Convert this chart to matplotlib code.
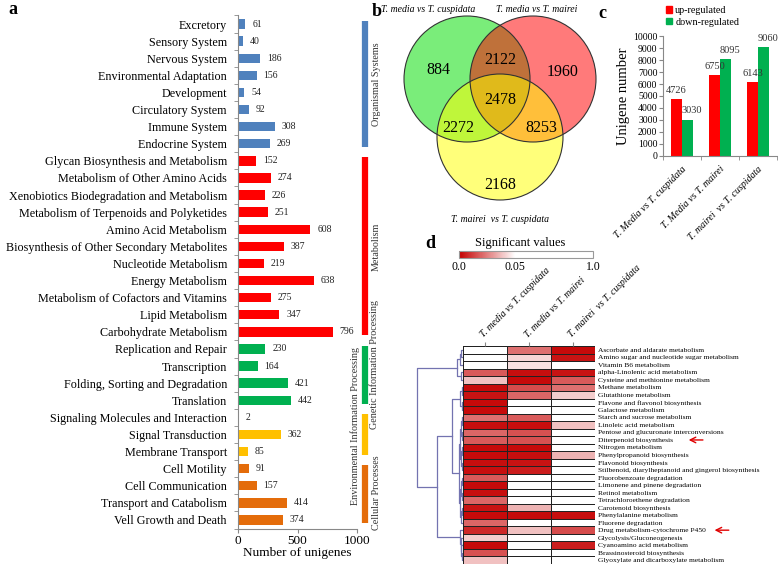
import matplotlib.pyplot as plt
import numpy as np
from matplotlib.patches import Circle, Patch
from matplotlib.colors import LinearSegmentedColormap, FuncNorm

plt.rcParams['font.family'] = ['Liberation Serif', 'DejaVu Serif']

W, H = 778, 565

# ---- panel a: KEGG pathway classes
pathways = [
    'Excretory', 'Sensory System', 'Nervous System', 'Environmental Adaptation',
    'Development', 'Circulatory System', 'Immune System', 'Endocrine System',
    'Glycan Biosynthesis and Metabolism', 'Metabolism of Other Amino Acids',
    'Xenobiotics Biodegradation and Metabolism', 'Metabolism of Terpenoids and Polyketides',
    'Amino Acid Metabolism', 'Biosynthesis of Other Secondary Metabolites',
    'Nucleotide Metabolism', 'Energy Metabolism', 'Metabolism of Cofactors and Vitamins',
    'Lipid Metabolism', 'Carbohydrate Metabolism',
    'Replication and Repair', 'Transcription', 'Folding, Sorting and Degradation', 'Translation',
    'Signaling Molecules and Interaction', 'Signal Transduction', 'Membrane Transport',
    'Cell Motility', 'Cell Communication', 'Transport and Catabolism', 'Vell Growth and Death',
]
unigenes = [61, 40, 186, 156, 54, 92, 308, 269,
            152, 274, 226, 251, 608, 387, 219, 638, 275, 347, 796,
            230, 164, 421, 442,
            2, 362, 85,
            91, 157, 414, 374]
group_names = ['Organismal Systems', 'Metabolism', 'Genetic Information Processing',
               'Environmental Information Processing', 'Cellular Processes']
group_sizes = [8, 11, 4, 3, 4]
group_colors = ['#4f81bd', '#ff0000', '#00b050', '#ffc000', '#e46c0a']

# ---- panel b: Venn counts
set_names = ['T. media vs T. cuspidata', 'T. media vs T. mairei', 'T. mairei  vs T. cuspidata']
venn_counts = {'100': 884, '010': 1960, '001': 2168, '110': 2122,
               '101': 2272, '011': 8253, '111': 2478}

# ---- panel c: up/down regulated
comparisons = ['T. Media vs T. cuspidata', 'T. Media vs T. mairei', 'T. mairei  vs T. cuspidata']
up_regulated = [4726, 6750, 6143]
down_regulated = [3030, 8095, 9060]

# ---- panel d: enrichment p-values
heat_cols = ['T. media vs T. cuspidata', 'T. media vs T. mairei', 'T. mairei  vs T. cuspidata']
heat_rows = [
    'Ascorbate and aldarate metabolism', 'Amino sugar and nucleotide sugar metabolism',
    'Vitamin B6 metabolism', 'alpha-Linolenic acid metabolism',
    'Cysteine and methionine metabolism', 'Methane metabolism', 'Glutathione metabolism',
    'Flavone and flavonol biosynthesis', 'Galactose metabolism', 'Starch and sucrose metabolism',
    'Linoleic acid metabolism', 'Pentose and glucuronate interconversions',
    'Diterpenoid biosynthesis', 'Nitrogen metabolism', 'Phenylpropanoid biosynthesis',
    'Flavonoid biosynthesis', 'Stilbenoid, diarylheptanoid and gingerol biosynthesis',
    'Fluorobenzoate degradation', 'Limonene and pinene degradation', 'Retinol metabolism',
    'Tetrachloroethene degradation', 'Carotenoid biosynthesis', 'Phenylalanine metabolism',
    'Fluorene degradation', 'Drug metabolism-cytochrome P450', 'Glycolysis/Gluconeogenesis',
    'Cyanoamino acid metabolism', 'Brassinosteroid biosynthesis',
    'Glyoxylate and dicarboxylate metabolism',
]
p_values = np.array([
    [0.5, 0.022, 0.002], [0.5, 0.042, 0.004], [0.5, 0.044, 0.5], [0.018, 0.003, 0.004],
    [0.038, 0.002, 0.018], [0.002, 0.015, 0.022], [0.004, 0.02, 0.04], [0.002, 0.5, 0.5],
    [0.002, 0.5, 0.5], [0.022, 0.018, 0.5], [0.003, 0.003, 0.038], [0.02, 0.016, 0.5],
    [0.018, 0.016, 0.5], [0.002, 0.002, 0.5], [0.002, 0.003, 0.035], [0.003, 0.004, 0.5],
    [0.003, 0.006, 0.5], [0.018, 0.5, 0.5], [0.002, 0.5, 0.5], [0.003, 0.5, 0.5],
    [0.02, 0.5, 0.5], [0.004, 0.035, 0.5], [0.002, 0.002, 0.003], [0.02, 0.5, 0.5],
    [0.008, 0.038, 0.015], [0.04, 0.5, 0.5], [0.002, 0.5, 0.006], [0.016, 0.5, 0.5],
    [0.038, 0.5, 0.5],
])
# row clustering: (left, right, height)
row_tree = ((((0, 1, 1.5), 2, 3.0), (3, 4, 2.0), 6.0),
            ((((5, 6, 1.0), (7, 8, 1.2), 3.0),
              ((((9, 10, 0.8), (11, 12, 0.8), 1.8), ((13, 14, 0.6), (15, 16, 0.7), 1.5), 2.5),
               (((17, 18, 0.9), (19, 20, 0.8), 1.6), ((21, 22, 1.0), 23, 1.8), 2.6), 4.0), 11.0),
             (24, (25, (26, (27, 28, 0.8), 1.5), 2.2), 3.0), 25.0),
            45.0)
marked_rows = ['Diterpenoid biosynthesis', 'Drug metabolism-cytochrome P450']


def rect(x0, y0, x1, y1):
    return [x0 / W, 1 - y1 / H, (x1 - x0) / W, (y1 - y0) / H]


fig = plt.figure(figsize=(W / 100, H / 100), dpi=100)

# ================= a =================
ax = fig.add_axes(rect(238, 15.5, 357, 528.5))
n = len(pathways)
y = np.arange(n)
bar_colors = np.repeat(group_colors, group_sizes)
ax.barh(y, unigenes, height=0.55, color=bar_colors)
ax.set_ylim(n - 0.5, -0.5)
ax.set_xlim(0, 1000)
ax.set_yticks(y)
ax.set_yticklabels(pathways, fontsize=8.7)
ax.set_yticks(np.arange(-0.5, n, 1), minor=True)
ax.tick_params(axis='y', which='major', length=0, pad=8)
ax.tick_params(axis='y', which='minor', length=3, color='#888')
ax.set_xticks([0, 500, 1000])
ax.tick_params(axis='x', labelsize=9.5, length=3, color='#888', pad=2)
ax.set_xlabel('Number of unigenes', fontsize=9.5, labelpad=0)
for s in ['top', 'right']:
    ax.spines[s].set_visible(False)
for s in ['left', 'bottom']:
    ax.spines[s].set_color('#888')
for yi, v in zip(y, unigenes):
    ax.annotate(f'{v}', xy=(v, yi), xytext=(5, 0), textcoords='offset points',
                ha='left', va='center', fontsize=7, color='#222')

label_x = [1160, 1160, 1145, 985, 1165]
label_row = [3.5, 13.0, 19.9, 23.5, 27.4]
start = 0
for name, size, col, lx, lr in zip(group_names, group_sizes, group_colors, label_x, label_row):
    end = start + size - 1
    ax.plot([1067, 1067], [start - 0.2, end + 0.2], color=col, lw=4.5,
            solid_capstyle='butt', clip_on=False)
    ax.text(lx, lr, name, rotation=90, ha='center', va='center', fontsize=7.3,
            color='#333', clip_on=False)
    start += size

# ================= b =================
axb = fig.add_axes(rect(395, 0, 605, 225))
axb.set_xlim(395, 605)
axb.set_ylim(225, 0)
axb.axis('off')
r = 63
centers = [(467, 79), (533, 79), (500, 137)]
fills = ['#00dd00', '#ff0000', '#ffff00']
for c, f in zip(centers, fills):
    axb.add_patch(Circle(c, r, fc=f, alpha=0.52, ec='none'))
for c in centers:
    axb.add_patch(Circle(c, r, fc='none', ec='#333', lw=0.8))
count_pos = {'100': (438, 70), '010': (563, 72), '001': (500, 185), '110': (500, 60),
             '101': (458, 128), '011': (541, 128), '111': (500, 100)}
for key, v in venn_counts.items():
    axb.text(*count_pos[key], f'{v}', ha='center', va='center', fontsize=11.5)
title_pos = [(428, 10), (537, 10), (500, 219)]
for name, (tx, ty) in zip(set_names, title_pos):
    axb.text(tx, ty, name, ha='center', va='center', fontsize=7, style='italic')

# ================= c =================
axc = fig.add_axes(rect(663, 36, 777, 156))
xc = np.arange(len(comparisons))
bw = 0.29
b1 = axc.bar(xc - bw / 2, up_regulated, bw, color='#ff0000', label='up-regulated')
b2 = axc.bar(xc + bw / 2, down_regulated, bw, color='#00b050', label='down-regulated')
for rects, dx in ((b1, 0), (b2, 3)):
    for rc in rects:
        axc.annotate(f'{int(rc.get_height())}', xy=(rc.get_x() + rc.get_width() / 2, rc.get_height()),
                     xytext=(dx, 3), textcoords='offset points', ha='center', va='bottom',
                     fontsize=7.5, color='#333')
axc.set_xlim(-0.5, len(comparisons) - 0.5)
axc.set_ylim(0, 10000)
axc.set_yticks(np.arange(0, 10001, 1000))
axc.tick_params(axis='y', labelsize=7, length=3, pad=1, color='#888')
axc.set_xticks(xc)
axc.set_xticklabels(comparisons, rotation=45, ha='right', va='top', rotation_mode='anchor',
                    fontsize=7.2, style='italic')
axc.set_xticks(np.arange(-0.5, len(comparisons), 1), minor=True)
axc.tick_params(axis='x', which='major', length=0, pad=6)
axc.tick_params(axis='x', which='minor', length=3, color='#888')
axc.set_ylabel('Unigene number', fontsize=10.5, labelpad=2)
for s in ['top', 'right']:
    axc.spines[s].set_visible(False)
for s in ['left', 'bottom']:
    axc.spines[s].set_color('#888')
fig.legend(handles=[Patch(color='#ff0000'), Patch(color='#00b050')],
           labels=['up-regulated', 'down-regulated'], loc='upper left',
           bbox_to_anchor=(666 / W, 1 - 6 / H), frameon=False, fontsize=7.3,
           handlelength=0.6, handleheight=0.6, handletextpad=0.3, labelspacing=0.25,
           borderaxespad=0, borderpad=0)

# ================= d =================
cmap = LinearSegmentedColormap.from_list('sig', [(0, '#c40000'), (0.42, '#ffffff'), (1, '#ffffff')])
p_knots = [0, 0.05, 1]
pos_knots = [0, 0.42, 1]
norm = FuncNorm((lambda p: np.interp(p, p_knots, pos_knots),
                 lambda q: np.interp(q, pos_knots, p_knots)), vmin=0, vmax=1)

axd = fig.add_axes(rect(463, 346, 595, 564))
mesh = axd.pcolormesh(p_values, cmap=cmap, norm=norm, edgecolors='#222', linewidth=0.6)
nr = len(heat_rows)
axd.set_xlim(0, len(heat_cols))
axd.set_ylim(nr, 0)
axd.xaxis.tick_top()
axd.set_xticks(np.arange(len(heat_cols)) + 0.5)
axd.set_xticklabels(heat_cols, rotation=45, ha='left', va='bottom', rotation_mode='anchor',
                    fontsize=7, style='italic')
axd.tick_params(axis='x', length=3, pad=2, color='#888')
axd.yaxis.tick_right()
axd.set_yticks(np.arange(nr) + 0.5)
axd.set_yticklabels(heat_rows, fontsize=5.4)
axd.tick_params(axis='y', length=0, pad=2)
for s in axd.spines.values():
    s.set_visible(False)
for name in marked_rows:
    ri = heat_rows.index(name) + 0.5
    tail = 3 + 0.012 * len(name) * 7 + 0.5
    axd.annotate('', xy=(tail - 0.45, ri), xytext=(tail, ri), annotation_clip=False,
                 arrowprops=dict(arrowstyle='->', color='#e00000', lw=1.0))

cax = fig.add_axes(rect(459, 251, 593, 258))
cb = fig.colorbar(mesh, cax=cax, orientation='horizontal', ticks=[0, 0.05, 1])
cb.ax.set_xticklabels(['0.0', '0.05', '1.0'])
cb.ax.tick_params(labelsize=8.5, length=0, pad=2)
cb.outline.set_edgecolor('#999')
fig.text(520 / W, 1 - 243 / H, 'Significant values', ha='center', va='center', fontsize=9)

# dendrogram
axt = fig.add_axes(rect(414, 346, 463, 564))
axt.set_xlim(48, 0)
axt.set_ylim(nr, 0)
axt.axis('off')


def draw(node):
    if isinstance(node, int):
        return node + 0.5, 0.0
    yl, hl = draw(node[0])
    yr, hr = draw(node[1])
    h = node[2]
    axt.plot([hl, h, h, hr], [yl, yl, yr, yr], color='#7373b0', lw=0.9)
    return (yl + yr) / 2, h


draw(row_tree)

# panel letters
for letter, (px, py) in zip('abcd', [(8, 10), (372, 12), (598, 14), (425, 244)]):
    fig.text(px / W, 1 - py / H, letter, fontsize=13, weight='bold', ha='left', va='center')

fig.savefig('out.png', dpi=100)
